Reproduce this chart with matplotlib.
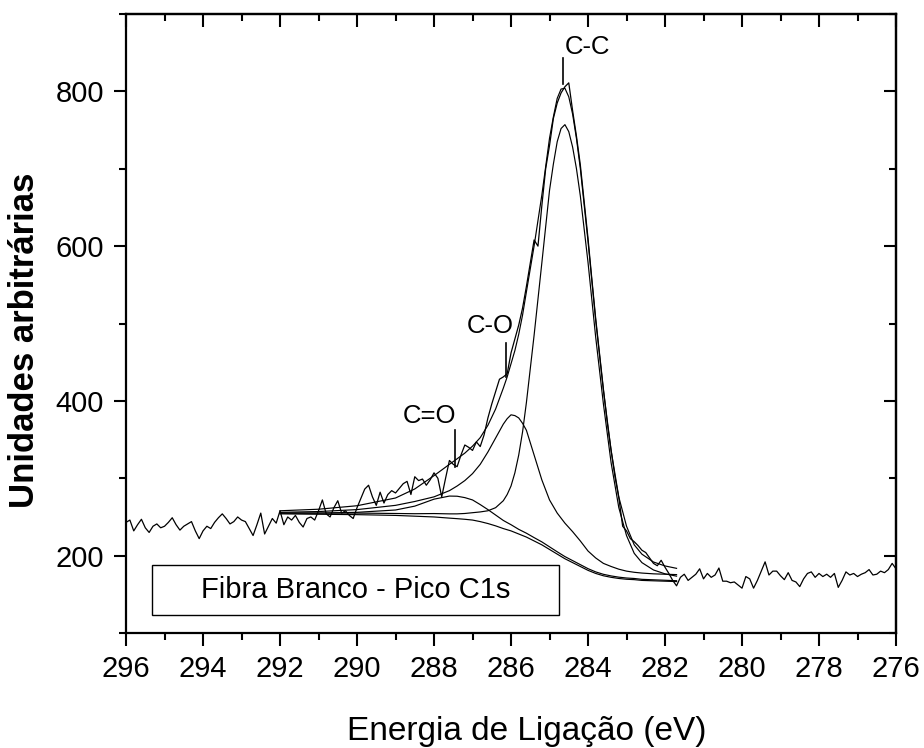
import numpy as np
import matplotlib.pyplot as plt
from matplotlib.patches import Rectangle
from matplotlib.ticker import MultipleLocator

plt.rcParams['font.family'] = ['Liberation Sans', 'DejaVu Sans']

# --- espectro medido (296 -> 276 eV, passo 0.1 eV) ---
contagens = [
    # 296.0 - 292.0
    243, 246, 232, 240, 247, 236, 230, 238, 241, 236,
    238, 243, 249, 240, 233, 238, 241, 244, 232, 222,
    232, 238, 235, 243, 249, 254, 248, 241, 244, 250,
    246, 244, 235, 226, 240, 255, 228, 238, 248, 242,
    258,
    # 291.9 - 287.7
    240, 250, 246, 252, 243, 237, 248, 250, 246, 258,
    272, 254, 250, 262, 271, 255, 258, 252, 248, 262,
    274, 286, 291, 276, 265, 282, 268, 279, 284, 281,
    287, 293, 296, 279, 302, 297, 299, 291, 298, 307,
    300, 276, 300,
    # 287.6 - 281.7
    323, 318, 315, 330, 343, 340, 336,
    347, 341, 356, 378, 396, 412, 428, 431, 435, 462,
    480, 498, 520, 548, 578, 608, 600, 652, 700, 730,
    765, 785, 798, 806, 811, 775, 742, 705, 658, 610,
    557, 506, 460, 415, 372, 336, 302, 275, 238, 232,
    222, 218, 213, 207, 204, 197, 190, 187, 194, 185,
    177, 168, 161,
    # 281.6 - 276.0
    172, 176, 168, 172, 176, 183, 170, 177, 172, 175,
    184, 167, 167, 165, 166, 162, 158, 173, 170, 158,
    168, 180, 192, 175, 180, 180, 174, 169, 178, 168,
    166, 160, 170, 177, 179, 172, 177, 173, 176, 172,
    177, 159, 168, 179, 175, 177, 173, 176, 178, 182,
    175, 176, 180, 178, 182, 190, 183,
]
energia = np.linspace(296.0, 276.0, len(contagens))

# --- ajuste (componentes + fundo) ---
ajuste_x = [292.0, 291.0, 290.0, 289.0, 288.5, 288.0, 287.6, 287.4, 287.2, 287.0,
            286.8, 286.6, 286.4, 286.2, 286.1, 286.0, 285.9, 285.8, 285.7, 285.6,
            285.4, 285.2, 285.0, 284.9, 284.8, 284.7, 284.6, 284.5, 284.4, 284.3,
            284.2, 284.0, 283.8, 283.6, 283.4, 283.2, 283.0, 282.8, 282.6, 282.3,
            282.0, 281.7]
fundo = [254, 253.5, 253, 252, 251, 250, 248.5, 247.8, 247, 246,
         244, 241.5, 238.5, 235, 233.5, 232, 230, 228, 226, 224,
         219, 214, 208, 205, 202, 199, 196, 193.5, 191, 188.5,
         186, 181, 177, 174, 172, 170.5, 169.5, 169, 168, 167.5,
         167, 166.5]
pico_c_dupla_o = [255, 255, 256, 259, 264, 273, 277, 276.8, 275, 272,
                  266, 259.5, 252.5, 245.5, 242.7, 240, 237, 234, 231.5, 229,
                  223.3, 217.8, 211.4, 208.2, 205, 201.9, 198.8, 196.2, 193.6, 191,
                  188.4, 183.2, 179, 175.9, 173.8, 172.2, 171.1, 170.5, 169.4, 168.8,
                  168.2, 167.6]
pico_c_o = [256, 257, 259.5, 265, 270, 276, 284, 290, 297, 306,
            318, 334, 352, 370, 377, 382, 381, 378, 371, 362,
            330, 298, 272, 263.5, 255, 248.5, 242, 236.5, 231, 225,
            219, 206, 197, 190, 186, 182.5, 180, 178.5, 177.5, 176.5,
            176, 175.5]
pico_c_c = [255, 255, 255, 254.5, 254.2, 254.4, 254, 254, 254.5, 255.5,
            256.5, 258, 262, 271, 279, 290, 307, 330, 360, 398,
            485, 578, 672, 706, 735, 752, 757, 748, 728, 700,
            665, 579, 482, 396, 320, 262, 226, 203, 191, 181.5,
            176.5, 173.5]
ajuste_total = [258, 260, 264.5, 274.5, 286.2, 303.4, 318, 325.2, 332.5, 341.5,
                352.5, 368.5, 389.5, 416.5, 431, 448, 465, 486, 511, 541,
                600.3, 665.8, 739.4, 767, 791, 803, 804, 793, 770.6, 739,
                700.4, 606.2, 504, 413.9, 335.8, 275.7, 238.1, 214, 201.9, 191.8,
                186.7, 183.6]

# --- rotulos dos picos ---
rotulos = ['C=O', 'C-O', 'C-C']
rotulo_linha_x = [287.45, 286.13, 284.64]
rotulo_linha_y0 = [314, 431, 810]
rotulo_linha_y1 = [363, 475, 843]
rotulo_texto_x = [288.81, 287.14, 284.60]
rotulo_texto_y = [372, 488, 848]

fig = plt.figure(figsize=(9.24, 7.48), dpi=100)
ax = fig.add_axes([0.1364, 0.1537, 0.8333, 0.8276])

ax.plot(energia, contagens, color='black', lw=0.9)
for curva in [fundo, pico_c_dupla_o, pico_c_o, pico_c_c, ajuste_total]:
    ax.plot(ajuste_x, curva, color='black', lw=0.85)

for i in range(len(rotulos)):
    ax.plot([rotulo_linha_x[i], rotulo_linha_x[i]],
            [rotulo_linha_y0[i], rotulo_linha_y1[i]], color='black', lw=1.2)
    ax.text(rotulo_texto_x[i], rotulo_texto_y[i], rotulos[i],
            fontsize=18.5, ha='left', va='baseline')

# caixa com o titulo
ax.add_patch(Rectangle((0.0338, 0.0291), 0.5285, 0.0808, transform=ax.transAxes,
                       facecolor='white', edgecolor='black', lw=1.0, zorder=3))
ax.text(0.298, 0.0695, 'Fibra Branco - Pico C1s', transform=ax.transAxes,
        fontsize=21, ha='center', va='center', zorder=4)

ax.set_xlim(296, 276)
ax.set_ylim(100, 900)
ax.xaxis.set_major_locator(MultipleLocator(2))
ax.xaxis.set_minor_locator(MultipleLocator(1))
ax.yaxis.set_major_locator(MultipleLocator(200))
ax.yaxis.set_minor_locator(MultipleLocator(100))
ax.tick_params(which='both', direction='out', width=1.5, labelsize=21, pad=7,
               top=False, right=False)
ax.tick_params(which='major', length=9)
ax.tick_params(which='minor', length=5)
for s in ax.spines.values():
    s.set_linewidth(1.6)

topo = ax.secondary_xaxis('top')
topo.xaxis.set_major_locator(MultipleLocator(2))
topo.xaxis.set_minor_locator(MultipleLocator(1))
topo.tick_params(which='both', direction='in', width=1.5, labeltop=False)
topo.tick_params(which='major', length=9)
topo.tick_params(which='minor', length=5)
topo.spines['top'].set_linewidth(1.6)

direita = ax.secondary_yaxis('right')
direita.yaxis.set_major_locator(MultipleLocator(200))
direita.yaxis.set_minor_locator(MultipleLocator(100))
direita.tick_params(which='both', direction='in', width=1.5, labelright=False)
direita.tick_params(which='major', length=9)
direita.tick_params(which='minor', length=5)
direita.spines['right'].set_linewidth(1.6)

fig.text(527 / 924, 1 - 740 / 748, 'Energia de Ligação (eV)', fontsize=24,
         ha='center', va='baseline')
fig.text(25 / 924, 1 - 340 / 748, 'Unidades arbitrárias', fontsize=25,
         fontweight='bold', rotation=90, ha='center', va='center')

fig.savefig('out.png', dpi=100)
